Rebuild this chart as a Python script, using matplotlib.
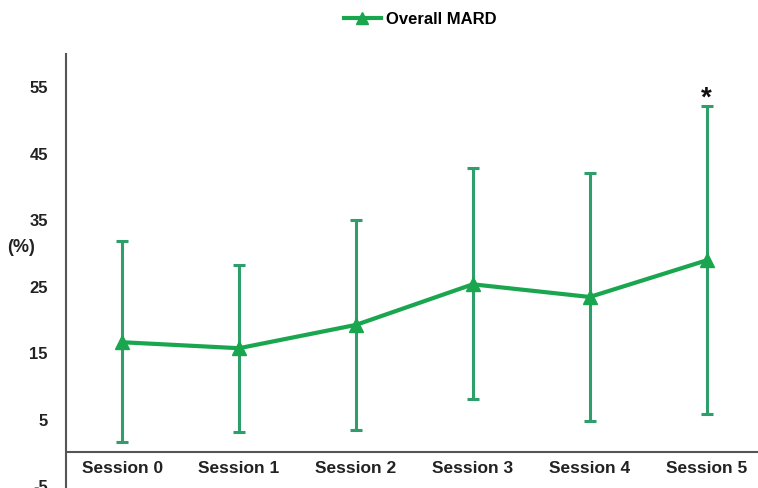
import matplotlib
matplotlib.use("Agg")
import matplotlib.pyplot as plt
from matplotlib.lines import Line2D
from matplotlib import font_manager

plt.rcParams["font.family"] = ["Liberation Sans", "DejaVu Sans"]
names = {f.name for f in font_manager.fontManager.ttflist}
if "Liberation Sans Narrow" in names:
    label_font = ["Liberation Sans Narrow", "Liberation Sans"]
    label_size = 14
else:
    label_font = ["Liberation Sans", "DejaVu Sans"]
    label_size = 12.5

sessions = ["Session 0", "Session 1", "Session 2", "Session 3", "Session 4", "Session 5"]
mard = [16.5, 15.6, 19.1, 25.2, 23.3, 28.8]
upper = [31.7, 28.1, 34.8, 42.6, 41.9, 52.0]
lower = [1.5, 3.0, 3.3, 8.0, 4.7, 5.7]
yticks = [-5, 5, 15, 25, 35, 45, 55]

line_color = "#1aa64f"
err_color = "#2e9e6a"

fig = plt.figure(figsize=(7.58, 4.89), dpi=100)
ax = fig.add_axes([66/758, 0.0, 1 - 66/758, (489-55)/489])
x = list(range(len(sessions)))
yerr = [[m - l for m, l in zip(mard, lower)], [u - m for m, u in zip(mard, upper)]]
ax.errorbar(x, mard, yerr=yerr, fmt="none", ecolor=err_color, elinewidth=2.2,
            capsize=4, capthick=2.2, zorder=2)
ax.plot(x, mard, color=line_color, lw=3, marker="^", ms=10, zorder=3)
ax.axhline(0, color="#555555", lw=1.5, zorder=1)

ax.set_xlim(-0.48, 5.44)
ax.set_ylim(-5.4, 59.8)
for s in ["top", "right", "bottom"]:
    ax.spines[s].set_visible(False)
ax.spines["left"].set_color("#555555")
ax.spines["left"].set_linewidth(1.5)
ax.set_xticks([])
ax.set_yticks(yticks)
ax.set_yticklabels([str(t) for t in yticks], fontweight="bold", fontsize=12, color="#222222")
ax.tick_params(axis="y", length=0, pad=13)

for xi, s in zip(x, sessions):
    ax.text(xi, -2.3, s, ha="center", va="center", fontsize=label_size, fontweight="bold",
            color="#222222", family=label_font)

ax.text(5, 53.3, "*", ha="center", va="center", fontsize=20, fontweight="bold", color="#111111")
fig.text(21/758, 1 - 248/489, "(%)", ha="center", va="center", fontsize=13, fontweight="bold", color="#222222")

handle = Line2D([], [], color=line_color, lw=3, marker="^", ms=9)
fig.legend([handle], ["Overall MARD"], loc="center", bbox_to_anchor=(420/758, 1 - 20/489),
           frameon=False, prop={"weight": "bold", "size": 12}, handlelength=2.2, handletextpad=0.3)

fig.savefig("out.png", dpi=100)
